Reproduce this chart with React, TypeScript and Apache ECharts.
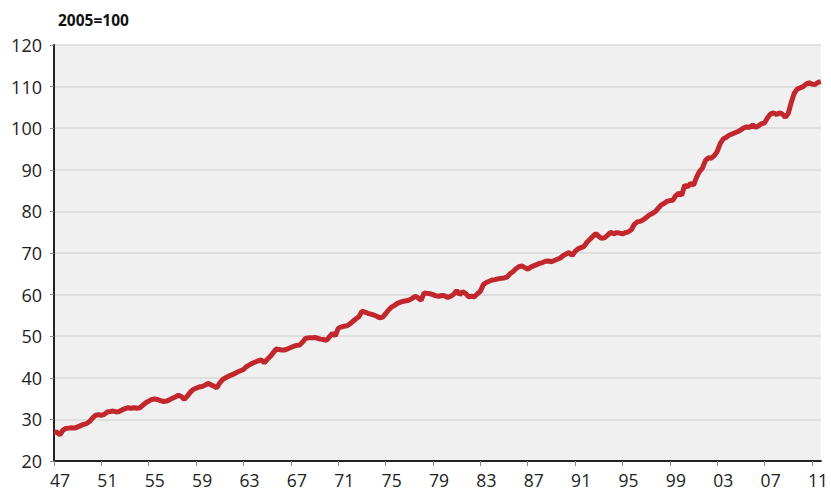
import React, { useEffect, useRef } from "react";
import * as echarts from "echarts";

const unitLabel = "2005=100";
const firstYear = 1947;
const lastYear = 2011;
const quarters = ["Q1", "Q2", "Q3", "Q4"];
const yTicks = { min: 20, max: 120, step: 10 };

// Quarterly index values, 1947Q1 .. 2011Q4 (4 per year)
const productivity: number[] = [
  27.0, 26.9, 26.3, 27.4, // 1947
  27.8, 27.9, 28.0, 27.9, // 1948
  28.2, 28.5, 28.8, 29.0, // 1949
  29.5, 30.3, 31.0, 31.1, // 1950
  31.0, 31.2, 31.8, 31.9, // 1951
  32.0, 31.8, 31.9, 32.3, // 1952
  32.6, 32.8, 32.7, 32.8, // 1953
  32.7, 32.8, 33.4, 34.0, // 1954
  34.4, 34.8, 34.9, 34.8, // 1955
  34.5, 34.3, 34.4, 34.7, // 1956
  35.1, 35.4, 35.8, 35.5, // 1957
  34.8, 35.6, 36.5, 37.2, // 1958
  37.5, 37.8, 37.9, 38.2, // 1959
  38.7, 38.3, 38.0, 37.6, // 1960
  38.8, 39.6, 40.0, 40.4, // 1961
  40.7, 41.0, 41.4, 41.7, // 1962
  42.0, 42.7, 43.1, 43.5, // 1963
  43.8, 44.1, 44.3, 43.6, // 1964
  44.4, 45.1, 46.0, 46.9, // 1965
  46.8, 46.7, 46.7, 47.0, // 1966
  47.3, 47.6, 47.8, 47.9, // 1967
  48.6, 49.5, 49.6, 49.6, // 1968
  49.7, 49.5, 49.3, 49.2, // 1969
  49.0, 49.8, 50.7, 50.1, // 1970
  51.9, 52.2, 52.4, 52.5, // 1971
  53.0, 53.6, 54.2, 54.7, // 1972
  56.0, 55.8, 55.5, 55.3, // 1973
  55.1, 54.8, 54.4, 54.6, // 1974
  55.4, 56.3, 57.0, 57.4, // 1975
  57.9, 58.2, 58.4, 58.5, // 1976
  58.7, 59.1, 59.6, 59.2, // 1977
  58.6, 60.4, 60.3, 60.2, // 1978
  60.0, 59.7, 59.6, 59.8, // 1979
  59.7, 59.3, 59.6, 60.1, // 1980
  61.0, 60.0, 60.7, 60.3, // 1981
  59.5, 59.6, 59.5, 60.2, // 1982
  60.8, 62.4, 62.9, 63.2, // 1983
  63.5, 63.6, 63.8, 63.9, // 1984
  64.0, 64.2, 65.0, 65.5, // 1985
  66.2, 66.7, 66.9, 66.5, // 1986
  66.1, 66.6, 66.9, 67.2, // 1987
  67.5, 67.7, 68.0, 68.1, // 1988
  67.9, 68.2, 68.5, 68.8, // 1989
  69.4, 69.8, 70.1, 69.4, // 1990
  70.4, 71.0, 71.3, 71.6, // 1991
  72.6, 73.3, 74.0, 74.7, // 1992
  74.0, 73.5, 73.7, 74.3, // 1993
  75.0, 74.6, 74.9, 74.8, // 1994
  74.6, 74.9, 75.1, 75.6, // 1995
  76.9, 77.5, 77.6, 78.0, // 1996
  78.5, 79.1, 79.5, 79.9, // 1997
  80.7, 81.5, 81.9, 82.4, // 1998
  82.6, 82.7, 83.8, 84.4, // 1999
  83.9, 86.3, 85.9, 86.7, // 2000
  86.3, 88.2, 89.6, 90.4, // 2001
  92.2, 92.9, 92.8, 93.4, // 2002
  94.4, 96.3, 97.4, 97.8, // 2003
  98.3, 98.6, 98.9, 99.2, // 2004
  99.6, 100.1, 100.3, 100.2, // 2005
  100.8, 100.2, 100.6, 101.1, // 2006
  101.3, 102.5, 103.4, 103.7, // 2007
  103.3, 103.7, 103.4, 102.6, // 2008
  103.6, 106.2, 108.4, 109.4, // 2009
  109.7, 110.0, 110.6, 110.9, // 2010
  110.6, 110.5, 111.0, 111.2, // 2011
];

const categories: string[] = [];
for (let y = firstYear; y <= lastYear; y++) {
  for (const q of quarters) categories.push(String(y).slice(2) + q);
}

const FONT = "'Open Sans', sans-serif";

export default function App() {
  const ref = useRef<HTMLDivElement>(null);
  useEffect(() => {
    if (!ref.current) return;
    const chart = echarts.init(ref.current, null, { renderer: "svg" });
    chart.setOption({
      animation: false,
      backgroundColor: "#ffffff",
      title: {
        text: unitLabel,
        left: 53,
        top: 7,
        textStyle: { fontFamily: FONT, fontWeight: "bold", fontSize: 15.5, color: "#111" },
      },
      grid: {
        left: 54,
        right: 4,
        top: 45,
        bottom: 32,
        show: true,
        backgroundColor: "#f0f0f0",
        borderWidth: 0,
      },
      xAxis: {
        type: "category",
        data: categories,
        boundaryGap: false,
        axisLine: { show: true, lineStyle: { color: "#222", width: 2 } },
        axisTick: { show: true, interval: 15, length: 5, lineStyle: { color: "#888" } },
        axisLabel: {
          interval: 15,
          margin: 10,
          padding: [0, 0, 0, 12],
          lineHeight: 17,
          fontFamily: FONT,
          fontSize: 17.5,
          color: "#222",
          formatter: (v: string) => v.slice(0, 2),
        },
        splitLine: { show: false },
      },
      yAxis: {
        type: "value",
        min: yTicks.min,
        max: yTicks.max,
        interval: yTicks.step,
        axisLine: { show: true, lineStyle: { color: "#222", width: 2 } },
        axisTick: { show: true, length: 4, lineStyle: { color: "#888" } },
        axisLabel: { margin: 12, fontFamily: FONT, fontSize: 18, color: "#222" },
        splitLine: { show: true, lineStyle: { color: "#d9d9d9", width: 1.5 } },
      },
      series: [
        {
          type: "line",
          data: productivity,
          symbol: "none",
          lineStyle: { color: "#c1272d", width: 5 },
        },
      ],
    });
    return () => chart.dispose();
  }, []);
  return (
    <div
      ref={ref}
      style={{ position: "fixed", left: 0, top: 0, width: 831, height: 493 }}
    />
  );
}
